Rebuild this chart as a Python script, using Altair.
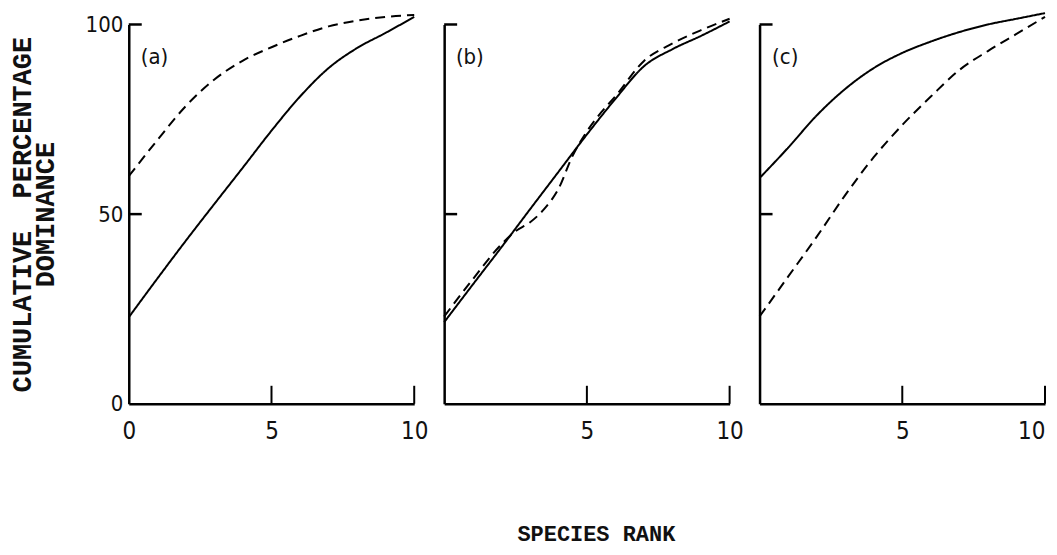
import altair as alt
import pandas as pd

# ---- data ----
rank = [0, 1, 2, 3, 4, 5, 6, 7, 8, 9, 10]
a_solid = [22.8, 33.0, 43.0, 52.7, 62.3, 72.0, 81.0, 88.5, 93.8, 97.8, 102.0]
a_dashed = [60.0, 69.5, 78.5, 85.5, 90.5, 94.0, 97.0, 99.5, 101.0, 102.0, 102.5]
b_solid = [21.5, 31.4, 41.2, 51.2, 61.1, 71.0, 80.4, 89.0, 93.5, 97.0, 100.8]
b_dashed_rank = [0, 1, 2, 2.5, 3, 3.5, 4, 4.5, 5, 5.5, 6, 7, 8, 9, 10]
b_dashed = [23.0, 32.8, 42.0, 45.5, 47.8, 51.3, 56.6, 65.4, 71.8, 76.8, 81.1, 90.4, 95.0, 98.5, 101.5]
c_solid = [59.5, 67.5, 76.0, 83.0, 88.5, 92.5, 95.5, 98.0, 100.0, 101.5, 103.0]
c_dashed = [23.0, 33.5, 44.0, 55.0, 65.0, 73.5, 81.0, 88.0, 93.0, 97.5, 102.0]

panel_names = ["(a)", "(b)", "(c)"]
y_tick_values = [0, 50, 100]
x_tick_values = [0, 5, 10]
y_title = ["CUMULATIVE\u00a0\u00a0PERCENTAGE", "DOMINANCE"]
x_title = "SPECIES RANK"

TICK_FONT = "Liberation Sans Narrow, DejaVu Sans Condensed, Liberation Sans, sans-serif"
TITLE_FONT = "Liberation Mono, DejaVu Sans Mono, monospace"
W, H = 286, 380


def make_df(sx, sy, dx, dy):
    return pd.DataFrame({
        "rank": list(sx) + list(dx),
        "value": list(sy) + list(dy),
        "kind": ["solid"] * len(sx) + ["dashed"] * len(dx),
    })


def panel(df, name, first, x_labels, xtitle="", flush=False):
    xscale = alt.Scale(domain=[0, 10], nice=False, zero=False)
    yscale = alt.Scale(domain=[0, 100], nice=False)
    x_axis = alt.Axis(
        values=x_labels, ticks=False, tickSize=0, grid=False,
        labelFont=TICK_FONT, labelFontSize=24, labelColor="#111",
        labelPadding=16, labelFlush=flush, labelOverlap=False,
        domainColor="black", domainWidth=2.5,
        title=xtitle, titleFont=TITLE_FONT, titleFontSize=22,
        titleFontWeight="bold", titleColor="#111", titlePadding=80, titleX=152,
    )
    if first:
        y_axis = alt.Axis(
            values=y_tick_values, ticks=False, tickSize=0, grid=False,
            labelFont=TICK_FONT, labelFontSize=22, labelColor="#111",
            labelPadding=6, labelFlush=False, labelOverlap=False,
            domainColor="black", domainWidth=2.5,
            title=y_title, titleFont=TITLE_FONT, titleFontSize=27,
            titleFontWeight="bold", titleColor="#111", titleLineHeight=23,
            titlePadding=26,
        )
    else:
        y_axis = alt.Axis(
            values=y_tick_values, ticks=False, tickSize=0, grid=False,
            labels=False, domainColor="black", domainWidth=2.5, title="",
        )

    lines = alt.Chart(df).mark_line(
        color="black", strokeWidth=2, interpolate="monotone", clip=False
    ).encode(
        x=alt.X("rank:Q", scale=xscale, axis=x_axis),
        y=alt.Y("value:Q", scale=yscale, axis=y_axis),
        strokeDash=alt.StrokeDash(
            "kind:N",
            scale=alt.Scale(domain=["solid", "dashed"], range=[[1, 0], [10, 6]]),
            legend=None,
        ),
    )

    yt = alt.Chart(pd.DataFrame({"v": [50, 100]})).mark_rule(
        color="black", strokeWidth=2.5
    ).encode(
        y=alt.Y("v:Q", scale=yscale, axis=y_axis),
        x=alt.value(0), x2=alt.value(13),
    )
    xt = alt.Chart(pd.DataFrame({"v": [5, 10]})).mark_rule(
        color="black", strokeWidth=2
    ).encode(
        x=alt.X("v:Q", scale=xscale, axis=x_axis),
        y=alt.value(H), y2=alt.value(H - 18),
    )
    lab = alt.Chart(pd.DataFrame({"t": [name]})).mark_text(
        font=TICK_FONT, fontSize=22, color="#111", align="center", baseline="middle"
    ).encode(
        x=alt.datum(0.9, scale=xscale, axis=x_axis),
        y=alt.datum(91.5, scale=yscale, axis=y_axis),
        text="t:N",
    )
    return alt.layer(lines, yt, xt, lab).properties(width=W, height=H)


pa = panel(make_df(rank, a_solid, rank, a_dashed), panel_names[0], True, x_tick_values)
pb = panel(make_df(rank, b_solid, b_dashed_rank, b_dashed), panel_names[1], False,
           x_tick_values[1:], x_title)
pc = panel(make_df(rank, c_solid, rank, c_dashed), panel_names[2], False,
           x_tick_values[1:], flush=True)

chart = alt.hconcat(pa, pb, pc, spacing=30, bounds="flush").properties(
    padding={"left": 0, "top": 0, "right": 0, "bottom": 0},
    background="white",
).configure_view(stroke=None)

chart.save("out.html", embed_options={"renderer": "svg", "actions": False})
